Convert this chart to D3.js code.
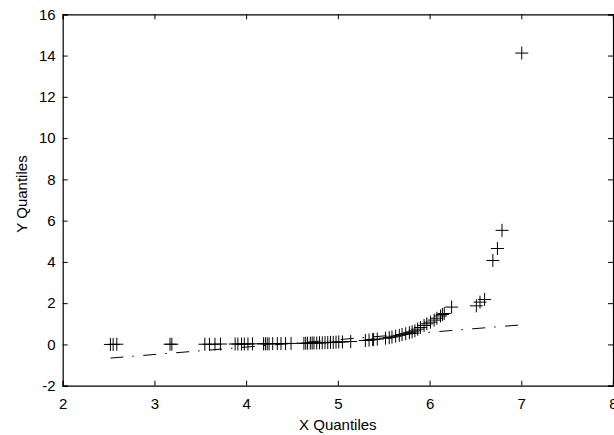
<!DOCTYPE html>
<html>
<head>
<meta charset="utf-8">
<script src="https://cdn.jsdelivr.net/npm/d3@7"></script>
<style>
html,body{margin:0;padding:0;background:#fff;}
svg{display:block;}
text{font-family:"Liberation Sans",Arial,Helvetica,sans-serif;fill:#000;}
</style>
</head>
<body>
<div id="chart"></div>
<script>
// X sample quantiles (sorted)
const xQuantiles = [
  2.52, 2.55, 2.59, 3.17, 3.19, 3.55, 3.60, 3.66, 3.72, 3.88,
  3.91, 3.95, 3.98, 4.02, 4.07, 4.19, 4.21, 4.23, 4.25, 4.29,
  4.34, 4.38, 4.43, 4.49, 4.63, 4.65, 4.67, 4.70, 4.72, 4.74,
  4.77, 4.80, 4.83, 4.86, 4.89, 4.92, 4.95, 4.98, 5.01, 5.05,
  5.14, 5.30, 5.34, 5.38, 5.39, 5.43, 5.52, 5.56, 5.59, 5.63,
  5.67, 5.70, 5.74, 5.78, 5.81, 5.84, 5.87, 5.90, 5.94, 5.97,
  6.01, 6.05, 6.08, 6.12, 6.14, 6.16, 6.24, 6.51, 6.55, 6.60,
  6.69, 6.74, 6.79, 7.005
];
// Y sample quantiles (sorted)
const yQuantiles = [
  0.00, 0.00, 0.01, 0.01, 0.01, 0.01, 0.01, 0.01, 0.02, 0.02,
  0.02, 0.02, 0.02, 0.02, 0.03, 0.03, 0.03, 0.03, 0.03, 0.04,
  0.04, 0.04, 0.04, 0.05, 0.05, 0.06, 0.06, 0.06, 0.07, 0.07,
  0.07, 0.08, 0.08, 0.09, 0.09, 0.10, 0.10, 0.11, 0.12, 0.12,
  0.14, 0.19, 0.21, 0.23, 0.24, 0.26, 0.30, 0.33, 0.36, 0.40,
  0.44, 0.48, 0.52, 0.57, 0.61, 0.66, 0.74, 0.82, 0.92, 1.00,
  1.08, 1.18, 1.27, 1.38, 1.45, 1.50, 1.81, 1.87, 2.05, 2.18,
  4.07, 4.65, 5.53, 14.12
];
// Reference (dash-dot) line endpoints
const lineX = [2.52, 7.005];
const lineY = [-0.66, 0.95];

const xTicks = [2, 3, 4, 5, 6, 7, 8];
const yTicks = [-2, 0, 2, 4, 6, 8, 10, 12, 14, 16];

const W = 614, H = 435;
const mLeft = 62.7, mRight = 613, mTop = 14.3, mBottom = 385.7;

const svg = d3.select("#chart").append("svg").attr("width", W).attr("height", H);

const x = d3.scaleLinear().domain([2, 8]).range([mLeft, mRight]);
const y = d3.scaleLinear().domain([-2, 16]).range([mBottom, mTop]);

// Reference line
svg.append("line")
  .attr("x1", x(lineX[0])).attr("y1", y(lineY[0]))
  .attr("x2", x(lineX[1])).attr("y2", y(lineY[1]))
  .attr("stroke", "#000").attr("stroke-width", 1)
  .attr("stroke-dasharray", "13,9,1.5,9.5");

// Plus markers
const pts = xQuantiles.map((v, i) => [v, yQuantiles[i]]);
const s = 6.5;
const g = svg.append("g");
g.selectAll("path.m").data(pts).enter().append("path")
  .attr("class", "m")
  .attr("d", d => {
    const cx = x(d[0]), cy = y(d[1]);
    return `M${cx - s},${cy}H${cx + s}M${cx},${cy - s}V${cy + s}`;
  })
  .attr("stroke", "#000").attr("stroke-width", 1).attr("fill", "none");

// Axes
const tick = 5;
const fmt = d => String(d);
const bAxis = svg.append("g").attr("transform", `translate(0,${mBottom})`)
  .call(d3.axisBottom(x).tickValues(xTicks).tickSize(-tick).tickPadding(13).tickFormat(fmt));
const tAxis = svg.append("g").attr("transform", `translate(0,${mTop})`)
  .call(d3.axisTop(x).tickValues(xTicks).tickSize(-tick).tickFormat(""));
const lAxis = svg.append("g").attr("transform", `translate(${mLeft},0)`)
  .call(d3.axisLeft(y).tickValues(yTicks).tickSize(-tick).tickPadding(7).tickFormat(fmt));
const rAxis = svg.append("g").attr("transform", `translate(${mRight},0)`)
  .call(d3.axisRight(y).tickValues(yTicks).tickSize(-tick).tickFormat(""));

[bAxis, tAxis, lAxis, rAxis].forEach(a => {
  a.select(".domain").attr("stroke", "#000").attr("stroke-width", 1.2);
  a.selectAll(".tick line").attr("stroke", "#000").attr("stroke-width", 1);
  a.selectAll(".tick text").attr("font-size", 15).attr("fill", "#000")
    .attr("font-family", "Liberation Sans, Arial, sans-serif");
});

// Axis labels
svg.append("text").attr("x", (mLeft + mRight) / 2).attr("y", 430)
  .attr("text-anchor", "middle").attr("font-size", 15).text("X Quantiles");
svg.append("text")
  .attr("transform", `translate(27,${(mTop + mBottom) / 2 - 6}) rotate(-90)`)
  .attr("text-anchor", "middle").attr("font-size", 15).text("Y Quantiles");
</script>
</body>
</html>
